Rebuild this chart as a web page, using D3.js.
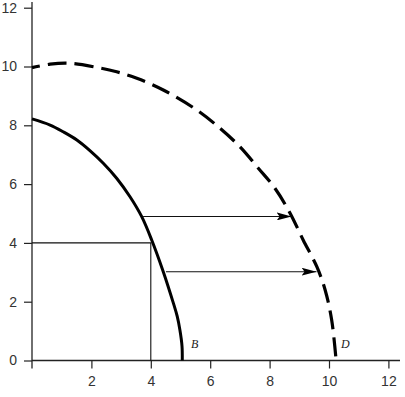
<!DOCTYPE html>
<html>
<head>
<meta charset="utf-8">
<script src="https://cdn.jsdelivr.net/npm/d3@7"></script>
<style>
html,body{margin:0;padding:0;background:#fff;}
svg{display:block;}
</style>
</head>
<body>
<svg id="chart" width="405" height="397"></svg>
<script>
// Tick values
const xTicks = [2, 4, 6, 8, 10, 12];
const yTicks = [0, 2, 4, 6, 8, 10, 12];

// Solid curve B
const curveBX = [0, 0.61, 1.05, 1.51, 1.95, 2.40, 2.85, 3.30, 3.69, 4.03, 4.42, 4.76, 4.89, 4.98, 5.05, 5.06];
const curveBY = [8.22, 8.01, 7.78, 7.50, 7.14, 6.71, 6.20, 5.57, 4.90, 4.10, 3.02, 1.95, 1.50, 1.04, 0.50, 0];

// Dashed curve D
const curveDX = [0, 0.61, 1.28, 2.18, 2.85, 3.53, 4.42, 5.55, 6.33, 7.00, 7.62, 8.18, 8.69, 9.13, 9.59, 9.87, 10.09, 10.24];
const curveDY = [9.96, 10.08, 10.11, 9.97, 9.82, 9.60, 9.20, 8.52, 7.90, 7.27, 6.54, 5.86, 5.01, 4.10, 3.19, 2.40, 1.38, 0];

// Box guide point
const boxPoint = [4, 4];

// Arrows: [x0, x1, y]
const arrowX0 = [3.74, 4.51];
const arrowX1 = [8.74, 9.58];
const arrowY = [4.9, 3.02];

// Curve labels
const labelText = ["B", "D"];
const labelX = [5.35, 10.4];
const labelY = [0.52, 0.52];

const svg = d3.select("#chart");
const x = d3.scaleLinear().domain([0, 12]).range([32, 388.4]);
const y = d3.scaleLinear().domain([0, 12]).range([360.5, 7.7]);

const axisColor = "#222";
const textColor = "#333";
const fontFam = "'Liberation Sans', Arial, sans-serif";

// Axis lines (extended like the original)
svg.append("line").attr("x1", x(0)).attr("x2", 400).attr("y1", y(0)).attr("y2", y(0))
  .attr("stroke", axisColor).attr("stroke-width", 1.3);
svg.append("line").attr("x1", x(0)).attr("x2", x(0)).attr("y1", y(0) + 8).attr("y2", 2)
  .attr("stroke", axisColor).attr("stroke-width", 1.3);

// Axes
const gx = svg.append("g").attr("transform", `translate(0,${y(0)})`)
  .call(d3.axisBottom(x).tickValues(xTicks).tickSize(8).tickPadding(8).tickFormat(d3.format("d")));
const gy = svg.append("g").attr("transform", `translate(${x(0)},0)`)
  .call(d3.axisLeft(y).tickValues(yTicks).tickSize(8).tickPadding(7).tickFormat(d3.format("d")));
[gx, gy].forEach(g => {
  g.select(".domain").remove();
  g.selectAll(".tick line").attr("stroke", axisColor).attr("stroke-width", 1.2);
  g.selectAll(".tick text").attr("fill", textColor).style("font-family", fontFam).style("font-size", "14px");
});

// Box guide
svg.append("path")
  .attr("d", d3.line()([[x(0), y(boxPoint[1])], [x(boxPoint[0]), y(boxPoint[1])], [x(boxPoint[0]), y(0)]]))
  .attr("fill", "none").attr("stroke", "#111").attr("stroke-width", 1.1);

const line = d3.line().x(d => x(d[0])).y(d => y(d[1])).curve(d3.curveCatmullRom.alpha(0.5));

// Solid curve
svg.append("path")
  .datum(curveBX.map((v, i) => [v, curveBY[i]]))
  .attr("d", line).attr("fill", "none").attr("stroke", "#000").attr("stroke-width", 3);

// Dashed curve
svg.append("path")
  .datum(curveDX.map((v, i) => [v, curveDY[i]]))
  .attr("d", line).attr("fill", "none").attr("stroke", "#000").attr("stroke-width", 3.2)
  .attr("stroke-dasharray", "19,8").attr("stroke-dashoffset", 11);

// Arrow marker
svg.append("defs").append("marker")
  .attr("id", "arr").attr("markerUnits", "userSpaceOnUse")
  .attr("viewBox", "0 -4 15 8").attr("refX", 15).attr("refY", 0)
  .attr("markerWidth", 15).attr("markerHeight", 8).attr("orient", "auto")
  .append("path").attr("d", "M0,-4L15,0L0,4L3,0Z").attr("fill", "#000");

arrowY.forEach((v, i) => {
  svg.append("line")
    .attr("x1", x(arrowX0[i])).attr("x2", x(arrowX1[i]))
    .attr("y1", y(v)).attr("y2", y(v))
    .attr("stroke", "#111").attr("stroke-width", 1.1)
    .attr("marker-end", "url(#arr)");
});

// Labels
labelText.forEach((t, i) => {
  svg.append("text").attr("x", x(labelX[i])).attr("y", y(labelY[i]))
    .attr("dominant-baseline", "middle")
    .style("font-family", "'Liberation Serif', 'DejaVu Serif', serif")
    .style("font-style", "italic").style("font-size", "12px")
    .attr("fill", "#222").text(t);
});
</script>
</body>
</html>
